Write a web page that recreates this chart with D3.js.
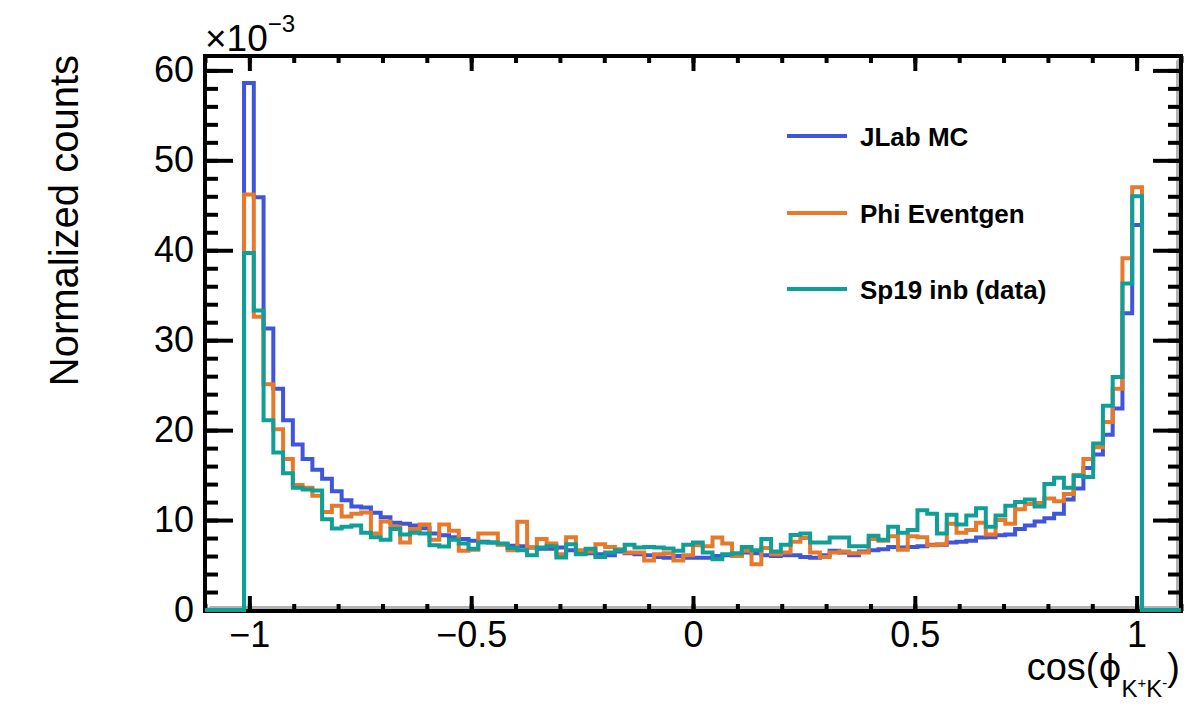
<!DOCTYPE html>
<html>
<head>
<meta charset="utf-8">
<script src="https://d3js.org/d3.v7.min.js"></script>
<style>
  body { margin: 0; background: #fff; }
  svg { display: block; font-family: "Liberation Sans", Arial, Helvetica, sans-serif; }
</style>
</head>
<body>
<svg></svg>
<script>
const width = 1193;
const height = 706;
const frame = { left: 205, right: 1181, top: 56, bottom: 611 };

// binning: 100 bins on [-1.1, 1.1], only bins 4..95 have entries
const xMin = -1.1;
const xMax = 1.1;
const nBins = 100;
const firstFilled = 4;

// bin contents, in units of 1e-3
const jlabMC = [
  58.6, 45.9, 31.3, 24.6, 21.1, 18.4, 16.8, 15.6, 14.6, 13.2,
  12.2, 11.5, 11.4, 10.8, 10.3, 9.7, 9.6, 9.4, 9.1, 8.5,
  8.3, 8.1, 7.9, 7.7, 7.6, 7.5, 7.3, 7.15, 7.1, 6.95,
  6.8, 6.8, 6.95, 6.65, 6.4, 6.3, 6.2, 6.1, 6.5, 6.3,
  6.2, 6.1, 5.9, 5.8, 6.0, 5.8, 5.8, 5.8, 6.0, 6.1,
  6.1, 6.4, 6.3, 6.1, 6.0, 6.1, 6.1, 5.9, 5.8, 6.1,
  6.6, 6.4, 6.1, 6.5, 6.65, 6.75, 7.0, 6.95, 7.0, 7.1,
  7.25, 7.25, 7.5, 7.6, 7.7, 8.05, 8.1, 8.3, 8.4, 9.0,
  9.4, 9.85, 10.2, 10.7, 12.3, 13.5, 15.8, 17.3, 19.5, 22.4,
  33.0, 42.8
];
const phiEventgen = [
  46.2, 32.6, 25.1, 20.1, 16.8, 13.9, 13.6, 12.7, 10.9, 11.6,
  10.4, 10.7, 10.85, 8.5, 9.85, 9.25, 7.5, 9.0, 9.5, 7.8,
  9.5, 8.8, 6.6, 6.7, 8.5, 8.5, 7.25, 6.65, 9.8, 6.95,
  7.9, 7.4, 6.2, 8.1, 6.65, 6.5, 7.3, 7.0, 6.75, 6.4,
  6.4, 5.5, 6.2, 6.3, 5.5, 6.1, 7.2, 7.1, 8.05, 7.4,
  6.0, 6.6, 5.1, 6.9, 6.2, 6.4, 7.6, 8.0, 6.4, 5.9,
  6.4, 6.5, 6.3, 6.4, 7.9, 7.7, 8.2, 6.7, 8.2, 8.1,
  7.2, 7.3, 9.6, 8.6, 8.9, 9.7, 8.4, 10.0, 9.6, 11.2,
  11.8, 11.9, 12.4, 12.1, 12.9, 15.0, 16.8, 18.1, 20.9, 24.6,
  39.1, 47.0
];
const sp19Data = [
  39.7, 33.3, 21.1, 17.5, 15.2, 13.6, 13.4, 13.3, 10.1, 9.05,
  9.25, 9.4, 8.6, 8.1, 7.8, 9.0, 8.4, 8.6, 8.5, 7.2,
  7.05, 7.8, 7.4, 6.8, 7.5, 7.5, 7.4, 6.9, 6.65, 6.1,
  6.95, 7.1, 5.85, 7.3, 6.2, 6.8, 5.9, 6.4, 6.65, 7.25,
  6.95, 7.0, 6.95, 6.85, 6.6, 7.25, 7.5, 6.4, 5.65, 6.2,
  6.3, 7.0, 6.65, 7.9, 6.5, 7.25, 8.35, 8.5, 7.5, 7.5,
  8.05, 8.05, 7.1, 7.1, 8.25, 7.8, 9.25, 8.6, 8.9, 11.1,
  10.7, 8.5, 10.6, 9.5, 10.5, 11.3, 9.25, 10.5, 11.6, 12.0,
  12.3, 11.5, 14.0, 14.7, 13.6, 14.9, 14.8, 18.5, 22.7, 25.9,
  36.3, 46.0
];

const seriesNames = ["JLab MC", "Phi Eventgen", "Sp19 inb (data)"];
const seriesValues = [jlabMC, phiEventgen, sp19Data];
const seriesColors = ["#3f55dc", "#e8792b", "#0f9f97"];

const xMajorTicks = [-1, -0.5, 0, 0.5, 1];
const xMinorTicks = d3.range(-11, 12).map((i) => i / 10);
const yMajorTicks = [0, 10, 20, 30, 40, 50, 60];
const yMinorTicks = d3.range(0, 62, 2);
const yMax = 61.6;

const svg = d3.select("svg").attr("width", width).attr("height", height);

const x = d3.scaleLinear().domain([xMin, xMax]).range([frame.left, frame.right]);
const y = d3.scaleLinear().domain([0, yMax]).range([frame.bottom - 1, frame.top]);

const drawFrame = () => {
  // grey bevel along bottom and right, like the ROOT frame
  const b = 5;
  svg.append("polygon")
    .attr("points", [
      [frame.left, frame.bottom], [frame.right, frame.bottom], [frame.right, frame.top],
      [frame.right - b, frame.top + b], [frame.right - b, frame.bottom - b], [frame.left + b, frame.bottom - b]
    ].join(" "))
    .attr("fill", "#b3b3b3");

  svg.append("rect")
    .attr("x", frame.left)
    .attr("y", frame.top)
    .attr("width", frame.right - frame.left)
    .attr("height", frame.bottom - frame.top)
    .attr("fill", "none")
    .attr("stroke", "#000")
    .attr("stroke-width", 4);
};

const styleAxis = (g) => {
  g.select(".domain").remove();
  g.selectAll(".tick line").attr("stroke", "#000").attr("stroke-width", 4);
  g.selectAll(".tick text").attr("fill", "#000").attr("font-size", 36);
};

const drawAxes = () => {
  const fmt = d3.format("");
  const none = () => "";

  svg.append("g").attr("transform", `translate(0,${frame.bottom})`)
    .call(d3.axisBottom(x).tickValues(xMinorTicks).tickSizeInner(-7).tickSizeOuter(0).tickFormat(none))
    .call(styleAxis);
  svg.append("g").attr("transform", `translate(0,${frame.bottom})`)
    .call(d3.axisBottom(x).tickValues(xMajorTicks).tickSizeInner(-15).tickSizeOuter(0).tickPadding(10).tickFormat(fmt))
    .call(styleAxis);
  svg.append("g").attr("transform", `translate(0,${frame.top})`)
    .call(d3.axisTop(x).tickValues(xMinorTicks).tickSizeInner(-7).tickSizeOuter(0).tickFormat(none))
    .call(styleAxis);
  svg.append("g").attr("transform", `translate(0,${frame.top})`)
    .call(d3.axisTop(x).tickValues(xMajorTicks).tickSizeInner(-15).tickSizeOuter(0).tickFormat(none))
    .call(styleAxis);

  svg.append("g").attr("transform", `translate(${frame.left},0)`)
    .call(d3.axisLeft(y).tickValues(yMinorTicks).tickSizeInner(-13).tickSizeOuter(0).tickFormat(none))
    .call(styleAxis);
  svg.append("g").attr("transform", `translate(${frame.left},0)`)
    .call(d3.axisLeft(y).tickValues(yMajorTicks).tickSizeInner(-28).tickSizeOuter(0).tickPadding(11).tickFormat(fmt))
    .call(styleAxis);
  svg.append("g").attr("transform", `translate(${frame.right},0)`)
    .call(d3.axisRight(y).tickValues(yMinorTicks).tickSizeInner(-13).tickSizeOuter(0).tickFormat(none))
    .call(styleAxis);
  svg.append("g").attr("transform", `translate(${frame.right},0)`)
    .call(d3.axisRight(y).tickValues(yMajorTicks).tickSizeInner(-28).tickSizeOuter(0).tickFormat(none))
    .call(styleAxis);
};

const drawHistograms = () => {
  const edges = d3.range(nBins + 1).map((i) => xMin + (i * (xMax - xMin)) / nBins);
  const line = d3.line()
    .x((d) => x(d[0]))
    .y((d) => y(d[1]))
    .curve(d3.curveStepAfter);

  seriesValues.forEach((vals, s) => {
    const bins = d3.range(nBins).map((i) =>
      i >= firstFilled && i < firstFilled + vals.length ? vals[i - firstFilled] : 0
    );
    const pts = edges.map((e, i) => [e, bins[Math.min(i, nBins - 1)]]);
    svg.append("path")
      .attr("d", line(pts))
      .attr("fill", "none")
      .attr("stroke", seriesColors[s])
      .attr("stroke-width", 4)
      .attr("stroke-linejoin", "miter");
  });
};

const drawLegend = () => {
  const rows = [136, 213, 289];
  const g = svg.append("g");
  seriesNames.forEach((name, i) => {
    g.append("line")
      .attr("x1", 787).attr("x2", 847)
      .attr("y1", rows[i]).attr("y2", rows[i])
      .attr("stroke", seriesColors[i])
      .attr("stroke-width", 4);
    g.append("text")
      .attr("x", 860)
      .attr("y", rows[i] + 9.5)
      .attr("font-size", 26)
      .attr("font-weight", "bold")
      .text(name);
  });
};

const drawTitles = () => {
  svg.append("text")
    .attr("transform", "translate(78,55) rotate(-90)")
    .attr("text-anchor", "end")
    .attr("font-size", 40)
    .text("Normalized counts");

  const xt = svg.append("text")
    .attr("x", 1180)
    .attr("y", 680)
    .attr("text-anchor", "end")
    .attr("font-size", 38);
  xt.append("tspan").text("cos(");
  xt.append("tspan").attr("font-family", "'DejaVu Sans'").attr("font-size", 35).text("\u03d5");
  xt.append("tspan").attr("font-size", 24).attr("dy", 17).text("K");
  xt.append("tspan").attr("font-size", 15).attr("dy", -9).text("+");
  xt.append("tspan").attr("font-size", 24).attr("dy", 9).text("K");
  xt.append("tspan").attr("font-size", 15).attr("dy", -9).text("-");
  xt.append("tspan").attr("dy", -8).text(")");

  const exp = svg.append("text")
    .attr("x", 205)
    .attr("y", 51)
    .attr("font-size", 37);
  exp.append("tspan").text("\u00d710");
  exp.append("tspan").attr("font-size", 24).attr("dy", -19).text("\u22123");
};

drawFrame();
drawAxes();
drawHistograms();
drawLegend();
drawTitles();
</script>
</body>
</html>
